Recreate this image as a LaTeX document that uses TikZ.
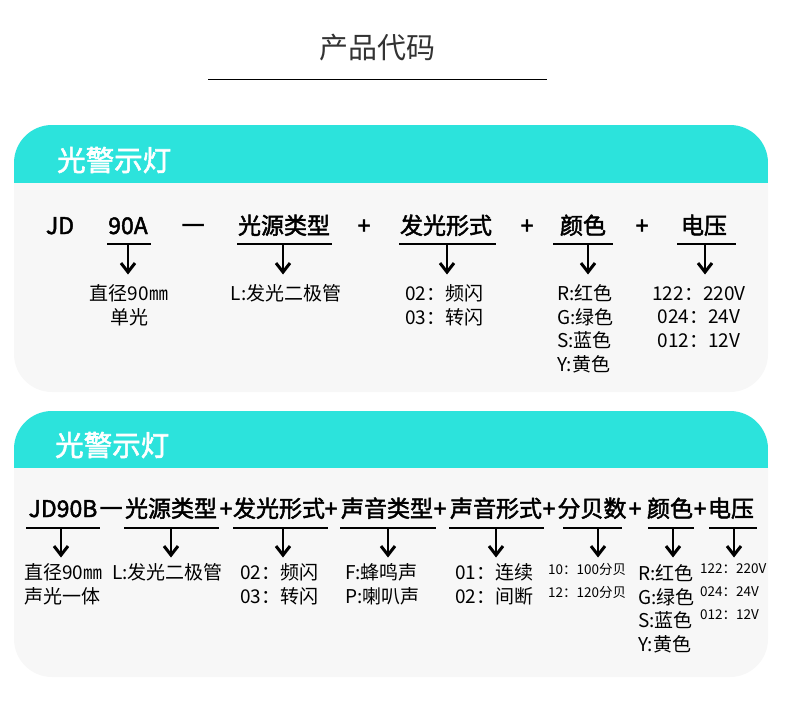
\documentclass[tikz,border=0pt]{standalone}
\usepackage{fontspec}
\setmainfont{Noto Sans CJK SC}[AutoFakeBold=2]
\usetikzlibrary{calc,arrows.meta,positioning}
\definecolor{cardteal}{RGB}{44,227,220}
\definecolor{cardgray}{RGB}{247,247,247}
\definecolor{titlegray}{RGB}{51,51,51}
\tikzset{
    keytext/.style={font=\fontsize{23}{23}\selectfont\bfseries, inner sep=0pt, anchor=base},
    desctext/.style={font=\fontsize{19}{23.5}\selectfont, inner sep=0pt, anchor=north},
    smalltext/.style={font=\fontsize{13.5}{23}\selectfont, inner sep=0pt, anchor=north west, align=left},
    headtext/.style={font=\fontsize{28.5}{28.5}\selectfont\bfseries, text=white, inner sep=0pt, anchor=west},
    uline/.style={line width=2pt},
    downarrow/.style={line width=2.8pt, -{Straight Barb[length=9pt,width=14pt,line width=3pt]}},
}

\begin{document}
\begin{tikzpicture}[x=1pt, y=-1pt]

    \useasboundingbox (0,0) rectangle (790,728);

    % title
    \node[font=\fontsize{29}{29}\selectfont, text=titlegray, inner sep=0pt] (title) at (377,48) {产品代码};
    \coordinate (T1) at (208,79);
    \coordinate (T2) at (547,79);
    \draw[line width=1pt] (T1) -- (T2);

    % cards
    \fill[cardgray, rounded corners=38pt] (14,125) rectangle (768,392);
    \begin{scope}
        \clip[rounded corners=38pt] (14,125) rectangle (768,392);
        \fill[cardteal] (14,125) rectangle (768,183);
    \end{scope}

    \fill[cardgray, rounded corners=38pt] (14,411) rectangle (768,677);
    \begin{scope}
        \clip[rounded corners=38pt] (14,411) rectangle (768,677);
        \fill[cardteal] (14,411) rectangle (768,468);
    \end{scope}

    \node[headtext] (headA) at (57,160) {光警示灯};
    \node[headtext] (headB) at (55,445) {光警示灯};

    %%% first card
    \node[keytext] (jd) at (60,234) {JD};
    \node[keytext] (k90a) at (128,234) {90A};
    \node[keytext] (dashA) at (193,234) {一};
    \node[keytext] (ksrcA) at (284,234) {光源类型};
    \node[keytext] (plusA1) at (364,234) {+};
    \node[keytext] (kflashA) at (446,234) {发光形式};
    \node[keytext] (plusA2) at (527,234) {+};
    \node[keytext] (kcolorA) at (583,234) {颜色};
    \node[keytext] (plusA3) at (642,234) {+};
    \node[keytext] (kvoltA) at (704,234) {电压};

    \draw[uline] (107,244) -- (151,244);
    \draw[uline] (237,244) -- (332,244);
    \draw[uline] (399,244) -- (496,244);
    \draw[uline] (553,244) -- (613,244);
    \draw[uline] (677,244) -- (736,244);

    \coordinate (a90a) at (128,243);
    \coordinate (asrcA) at (283,243);
    \coordinate (aflashA) at (447,243);
    \coordinate (acolorA) at (588,243);
    \coordinate (avoltA) at (705,243);

    \node[desctext, align=center] (d90a) at (129,284.5) {直径90㎜\\单光};
    \node[desctext] (dsrcA) at (286,284.5) {L:发光二极管};
    \node[desctext, anchor=north west, align=left] (dflashA) at (405,284.5) {02：频闪\\03：转闪};
    \node[desctext, anchor=north west, align=left] (dcolorA) at (557,284.5) {R:红色\\G:绿色\\S:蓝色\\Y:黄色};
    \node[desctext, align=center] (dvoltA) at (699,286) {122：220V\\024：24V\\012：12V};

    \begin{scope}[shorten >=10pt]
        \draw[downarrow] (a90a) -- (a90a |- d90a.north);
        \draw[downarrow] (asrcA) -- (asrcA |- dsrcA.north);
        \draw[downarrow] (aflashA) -- (aflashA |- dflashA.north);
        \draw[downarrow] (acolorA) -- (acolorA |- dcolorA.north);
        \draw[downarrow] (avoltA) -- (avoltA |- dsrcA.north);
    \end{scope}

    %%% second card
    \node[keytext] (k90b) at (63,517) {JD90B};
    \node[keytext] (dashB) at (111,517) {一};
    \node[keytext] (ksrcB) at (171,517) {光源类型};
    \node[keytext] (plusB1) at (226,517) {+};
    \node[keytext] (kflashB) at (279,517) {发光形式};
    \node[keytext] (plusB2) at (331,517) {+};
    \node[keytext] (ksound) at (387,517) {声音类型};
    \node[keytext] (plusB3) at (440,517) {+};
    \node[keytext] (kmode) at (496,517) {声音形式};
    \node[keytext] (plusB4) at (549,517) {+};
    \node[keytext] (kdb) at (592,517) {分贝数};
    \node[keytext] (plusB5) at (635,517) {+};
    \node[keytext] (kcolorB) at (670,517) {颜色};
    \node[keytext] (plusB6) at (700,517) {+};
    \node[keytext] (kvoltB) at (731,517) {电压};

    \draw[uline] (26,528) -- (100,528);
    \draw[uline] (124,528) -- (219,528);
    \draw[uline] (233,528) -- (328,528);
    \draw[uline] (340,528) -- (436,528);
    \draw[uline] (449,528) -- (544,528);
    \draw[uline] (563,528) -- (622,528);
    \draw[uline] (648,528) -- (694,528);
    \draw[uline] (709,528) -- (757,528);

    \coordinate (a90b) at (61,527);
    \coordinate (asrcB) at (171,527);
    \coordinate (aflashB) at (283,527);
    \coordinate (asound) at (388,527);
    \coordinate (amode) at (496,527);
    \coordinate (adb) at (598,527);
    \coordinate (acolorB) at (673,527);
    \coordinate (avoltB) at (734,527);

    \node[desctext, anchor=north west, align=left] (d90b) at (24,563.5) {直径90㎜\\声光一体};
    \node[desctext, anchor=north west] (dsrcB) at (112,563.5) {L:发光二极管};
    \node[desctext, anchor=north west, align=left] (dflashB) at (240,563.5) {02：频闪\\03：转闪};
    \node[desctext, anchor=north west, align=left] (dsound) at (345,563.5) {F:蜂鸣声\\P:喇叭声};
    \node[desctext, anchor=north west, align=left] (dmode) at (455,563.5) {01：连续\\02：间断};
    \node[smalltext] (ddb) at (548,563.5) {10：100分贝\\12：120分贝};
    \node[desctext, anchor=north west, align=left] (dcolorB) at (638,564.5) {R:红色\\G:绿色\\S:蓝色\\Y:黄色};
    \node[smalltext] (dvoltB) at (700,563.5) {122：220V\\024：24V\\012：12V};

    \begin{scope}[shorten >=6pt]
        \draw[downarrow] (a90b) -- (a90b |- d90b.north);
        \draw[downarrow] (asrcB) -- (asrcB |- dsrcB.north);
        \draw[downarrow] (aflashB) -- (aflashB |- dflashB.north);
        \draw[downarrow] (asound) -- (asound |- dsound.north);
        \draw[downarrow] (amode) -- (amode |- dmode.north);
        \draw[downarrow] (adb) -- (adb |- dsound.north);
        \draw[downarrow] (acolorB) -- (acolorB |- dsound.north);
        \draw[downarrow] (avoltB) -- (avoltB |- dsound.north);
    \end{scope}

\end{tikzpicture}
\end{document}
